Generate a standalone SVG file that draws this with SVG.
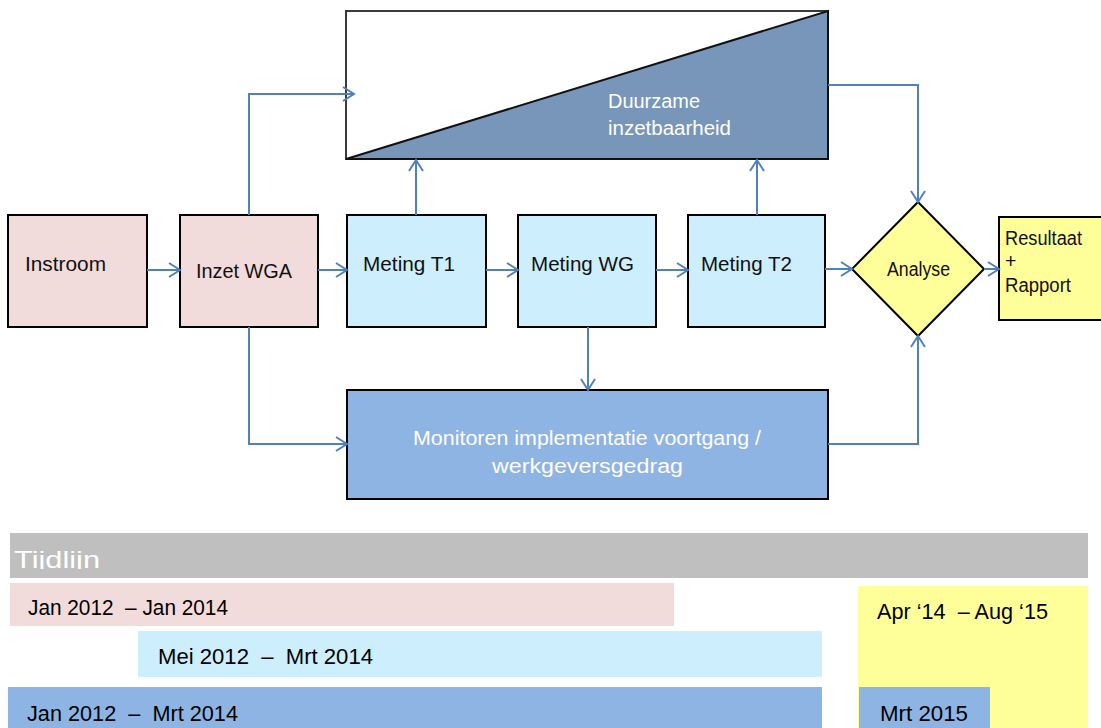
<svg xmlns="http://www.w3.org/2000/svg" width="1101" height="728" viewBox="0 0 1101 728">
<style>
.box{stroke:#000;stroke-width:2}
.pink{fill:#f2dcdb}
.lb{fill:#cdeefd}
.yel{fill:#ffff99}
.blue{fill:#8eb4e3}
.t{font-family:"Liberation Sans",Arial,sans-serif;font-size:19.5px;fill:#111}
.w{fill:#fff}
.tl{font-family:"Liberation Sans",Arial,sans-serif;font-size:22px;fill:#000;white-space:pre}
.c{fill:none;stroke:#4f81bd;stroke-width:2;marker-end:url(#arr)}
</style>
<defs>
<marker id="arr" markerUnits="userSpaceOnUse" markerWidth="16" markerHeight="18" refX="13" refY="8" orient="auto">
<path d="M2,1 L13,8 L2,15" fill="none" stroke="#4f81bd" stroke-width="2"/>
</marker>
<clipPath id="tlclip"><rect x="10" y="533" width="1078" height="36"/></clipPath>
</defs>

<g id="duurzame">
<rect x="346" y="11" width="482" height="148" fill="#fff" stroke="#3a3a3a" stroke-width="2"/>
<polygon points="346,159 828,11 828,159" fill="#7796b9" stroke="#111" stroke-width="2"/>
<text class="t w" x="608" y="108" textLength="92" lengthAdjust="spacingAndGlyphs">Duurzame</text>
<text class="t w" x="608" y="135" textLength="123" lengthAdjust="spacingAndGlyphs">inzetbaarheid</text>
</g>

<g id="instroom">
<rect class="box pink" x="8" y="215" width="139" height="112"/>
<text class="t" x="25" y="271" textLength="81" lengthAdjust="spacingAndGlyphs">Instroom</text>
</g>
<g id="inzet">
<rect class="box pink" x="180" y="215" width="138" height="112"/>
<text class="t" x="196" y="278" textLength="96" lengthAdjust="spacingAndGlyphs">Inzet WGA</text>
</g>
<g id="t1">
<rect class="box lb" x="347" y="215" width="139" height="112"/>
<text class="t" x="363" y="271" textLength="92" lengthAdjust="spacingAndGlyphs">Meting T1</text>
</g>
<g id="wg">
<rect class="box lb" x="518" y="215" width="138" height="112"/>
<text class="t" x="531" y="271" textLength="103" lengthAdjust="spacingAndGlyphs">Meting WG</text>
</g>
<g id="t2">
<rect class="box lb" x="688" y="215" width="137" height="112"/>
<text class="t" x="701" y="271" textLength="91" lengthAdjust="spacingAndGlyphs">Meting T2</text>
</g>
<g id="analyse">
<polygon class="box yel" points="918,202 984,269 918,336 852,269"/>
<text class="t" x="887" y="276" font-size="17.5" textLength="63" lengthAdjust="spacingAndGlyphs">Analyse</text>
</g>
<g id="resultaat">
<rect class="box yel" x="999" y="217" width="104" height="103"/>
<text class="t" x="1005" y="245" font-size="17" textLength="77" lengthAdjust="spacingAndGlyphs">Resultaat</text>
<text class="t" x="1005" y="268" font-size="17">+</text>
<text class="t" x="1005" y="292" font-size="17" textLength="66" lengthAdjust="spacingAndGlyphs">Rapport</text>
</g>
<g id="monitoren">
<rect class="box blue" x="347" y="390" width="481" height="109"/>
<text class="t w" x="413" y="445" textLength="348" lengthAdjust="spacingAndGlyphs">Monitoren implementatie voortgang /</text>
<text class="t w" x="492" y="473" textLength="191" lengthAdjust="spacingAndGlyphs">werkgeversgedrag</text>
</g>

<g id="connectors">
<path class="c" d="M147,270 H180"/>
<path class="c" d="M318,270 H347"/>
<path class="c" d="M486,270 H518"/>
<path class="c" d="M656,270 H688"/>
<path class="c" d="M825,269 H852"/>
<path class="c" d="M984,269 H999"/>
<path class="c" d="M249,215 V94 H354"/>
<path class="c" d="M416,215 V160"/>
<path class="c" d="M757,215 V160"/>
<path class="c" d="M828,85 H918 V202"/>
<path class="c" d="M249,327 V444 H347"/>
<path class="c" d="M588,327 V390"/>
<path class="c" d="M828,444 H918 V336"/>
</g>

<g id="timeline">
<rect x="10" y="533" width="1078" height="45" fill="#bfbfbf"/>
<text x="14" y="568" clip-path="url(#tlclip)" font-family="Liberation Sans,Arial,sans-serif" font-size="24" fill="#fff" textLength="86" lengthAdjust="spacingAndGlyphs">Tijdlijn</text>
<rect x="10" y="583" width="664" height="43" class="pink"/>
<text class="tl" x="28" y="615" textLength="200" lengthAdjust="spacingAndGlyphs">Jan 2012  – Jan 2014</text>
<rect x="138" y="631" width="684" height="46" class="lb"/>
<text class="tl" x="158" y="664" textLength="215" lengthAdjust="spacingAndGlyphs">Mei 2012  –  Mrt 2014</text>
<rect x="8" y="687" width="814" height="41" class="blue"/>
<text class="tl" x="27" y="721" textLength="211" lengthAdjust="spacingAndGlyphs">Jan 2012  –  Mrt 2014</text>
<rect x="858" y="586" width="230" height="142" class="yel"/>
<text class="tl" x="877" y="619" textLength="171" lengthAdjust="spacingAndGlyphs">Apr ‘14  – Aug ‘15</text>
<rect x="859" y="687" width="131" height="41" class="blue"/>
<text class="tl" x="880" y="721" textLength="88" lengthAdjust="spacingAndGlyphs">Mrt 2015</text>
</g>
</svg>
